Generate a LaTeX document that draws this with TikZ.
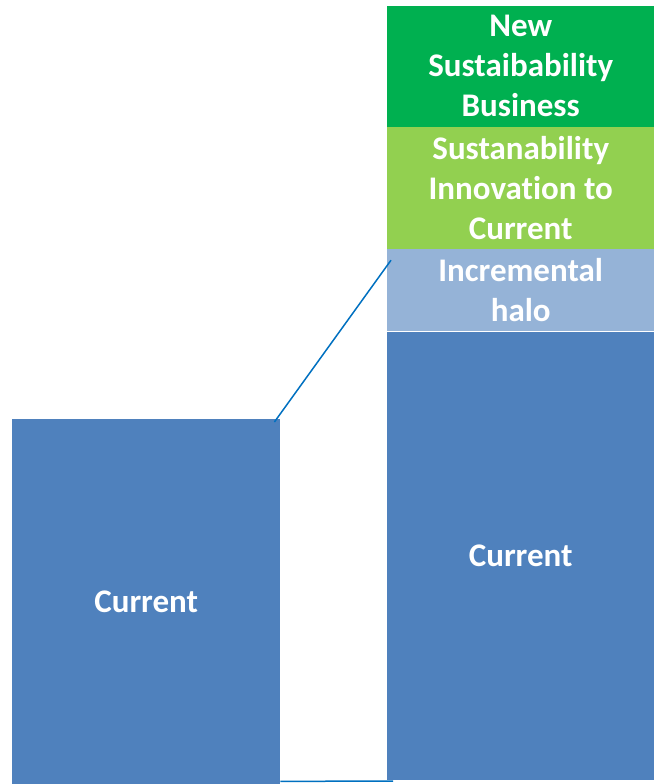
\documentclass[tikz,border=0pt]{standalone}
\usepackage{fontspec}
\setmainfont{Carlito}[Ligatures={NoCommon,NoRare}]
\definecolor{bar_blue}{RGB}{79, 129, 189}
\definecolor{halo_blue}{RGB}{149, 179, 215}
\definecolor{leaf_green}{RGB}{146, 208, 80}
\definecolor{deep_green}{RGB}{0, 176, 80}
\definecolor{link_blue}{RGB}{0, 112, 192}
\usepackage{tikz}
\usetikzlibrary{positioning}

\tikzset{
  bar/.style={rectangle, inner sep=0pt, minimum width=267pt, text=white,
    font=\fontsize{33}{40}\selectfont\bfseries, align=center},
  link/.style={link_blue, line width=1.5pt}
}

\begin{document}
\begin{tikzpicture}[x=1pt, y=1pt]
        \useasboundingbox (0,0) rectangle (654,-784);

        % --- Left column: today ---
        \node[bar, fill=bar_blue, minimum width=268pt, minimum height=365pt,
              anchor=north west] (oldcur) at (12,-419) {Current};

        % --- Right column: stacked growth ---
        \node[bar, fill=bar_blue, minimum height=448pt, anchor=south west]
              (newcur) at (387,-780) {Current};
        \node[bar, fill=halo_blue, minimum height=82pt, above=0pt of newcur]
              (halo) {Incremental\\halo};
        \node[bar, fill=leaf_green, minimum height=122pt, above=0pt of halo]
              (innov) {Sustanability\\Innovation to\\Current};
        \node[bar, fill=deep_green, minimum height=121pt, above=0pt of innov]
              (newbiz) {New\\Sustaibability\\Business};

        % Zoom lines
        \draw[link] ([xshift=-6pt,yshift=-3pt]oldcur.north east)
              -- ([xshift=4pt,yshift=-11pt]halo.north west);
        \draw[link] ([yshift=3pt]oldcur.south east)
              -- ([xshift=6pt,yshift=-1pt]newcur.south west);
      \end{tikzpicture}
\end{document}
